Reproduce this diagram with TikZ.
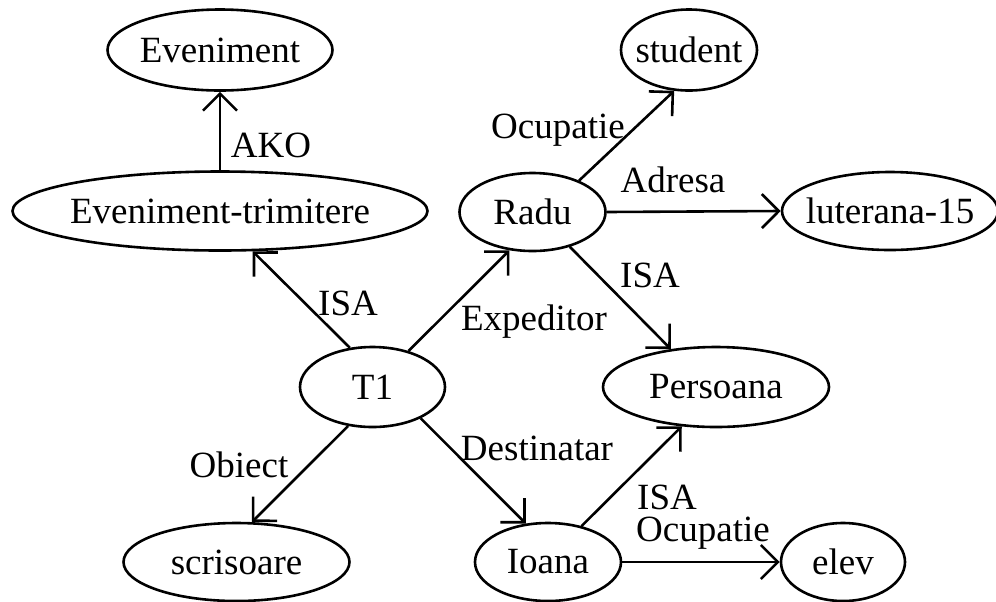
\documentclass[tikz,border=0pt]{standalone}
\usepackage{fontspec}
\setmainfont{Liberation Serif}
\usetikzlibrary{shapes.geometric, arrows.meta}

\tikzset{
  concept/.style={draw, ellipse, line width=1.3pt, inner xsep=-20pt, inner ysep=0pt},
  rel/.style={line width=1.3pt, -{Straight Barb[length=8.5pt,width=17pt]}},
  lbl/.style={inner sep=0pt}
}

\begin{document}
\begin{tikzpicture}[x=0.5pt, y=-0.5pt, font=\fontsize{18.5}{22}\selectfont]
        \useasboundingbox (0,0) rectangle (996,601);
        % concepte
        \node[concept, minimum width=112.5pt, minimum height=40.5pt] (ev) at (220,50) {Eveniment};
        \node[concept, minimum width=207.5pt, minimum height=39.5pt] (et) at (220,211) {Eveniment-trimitere};
        \node[concept, minimum width=68pt, minimum height=40.5pt] (stud) at (689,50) {student};
        \node[concept, minimum width=73pt, minimum height=39pt] (radu) at (532.5,212) {Radu};
        \node[concept, minimum width=108pt, minimum height=39pt] (lut) at (890,211) {luterana-15};
        \node[concept, minimum width=72.5pt, minimum height=40pt] (t1) at (372.5,387) {T1};
        \node[concept, minimum width=113pt, minimum height=40pt] (pers) at (716,387) {Persoana};
        \node[concept, minimum width=113pt, minimum height=39pt] (scris) at (236.5,562) {scrisoare};
        \node[concept, minimum width=73pt, minimum height=39pt] (ioana) at (548,562) {Ioana};
        \node[concept, minimum width=62pt, minimum height=39pt] (elev) at (843,562) {elev};
        % relatii
        \draw[rel] (et.north) -- (ev.south);
        \draw[rel] (t1.120) -- (et.-51);
        \draw[rel] (t1.45) -- (radu.-121);
        \draw[rel] (t1.-122) -- (scris.69);
        \draw[rel] (t1.-33) -- (ioana.120);
        \draw[rel] (radu.34) -- (stud.-110);
        \draw[rel] (radu.east) -- (lut.west);
        \draw[rel] (radu.-43) -- (pers.140);
        \draw[rel] (ioana.47) -- (pers.-131);
        \draw[rel] (ioana.east) -- (elev.west);
        % etichete
        \node[lbl] (lako) at (271,145) {AKO};
        \node[lbl] (lisa1) at (348,303) {ISA};
        \node[lbl] (lexp) at (534,322) {Expeditor};
        \node[lbl] (lobi) at (239,465) {Obiect};
        \node[lbl] (ldest) at (537,448) {Destinatar};
        \node[lbl] (locup1) at (558,130) {Ocupatie};
        \node[lbl] (ladr) at (673,180) {Adresa};
        \node[lbl] (lisa2) at (650,275) {ISA};
        \node[lbl] (lisa3) at (667,497) {ISA};
        \node[lbl] (locup2) at (703,533) {Ocupatie};
    \end{tikzpicture}
\end{document}
